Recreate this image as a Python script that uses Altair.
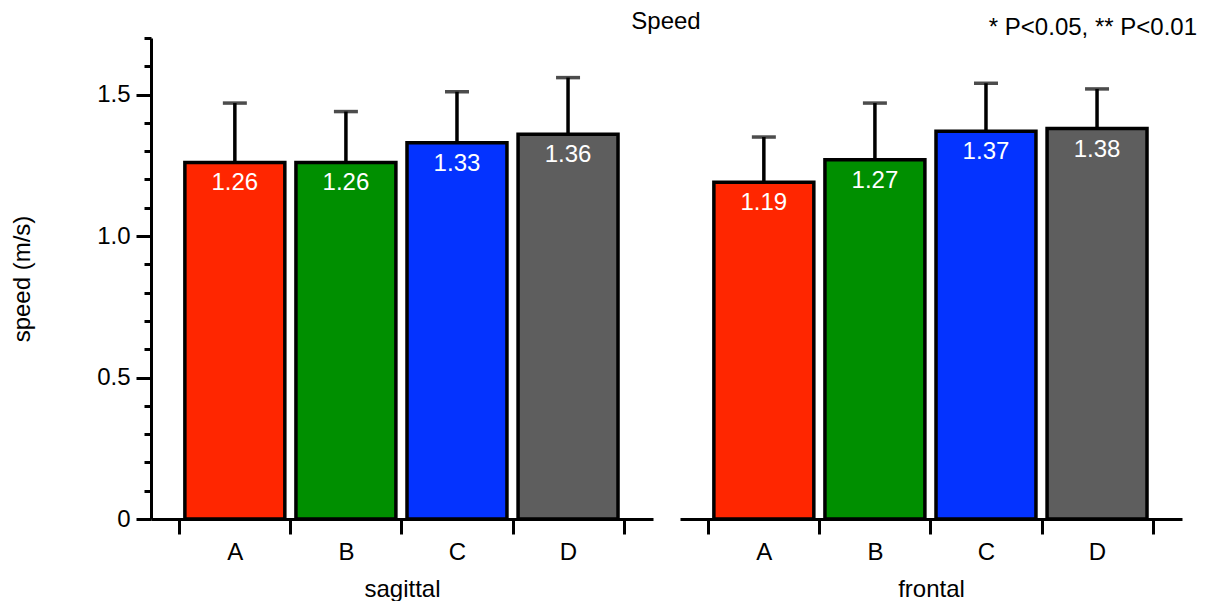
import json
import altair as alt
import pandas as pd

# ---- data ----
categories = ["A", "B", "C", "D"]
panels = ["sagittal", "frontal"]
sagittal_mean = [1.26, 1.26, 1.33, 1.36]
sagittal_sd = [0.21, 0.18, 0.18, 0.20]
frontal_mean = [1.19, 1.27, 1.37, 1.38]
frontal_sd = [0.16, 0.20, 0.17, 0.14]
bar_colors = ["#FF2600", "#008F00", "#0433FF", "#5E5E5E"]
y_tick_values = [0.0, 0.1, 0.2, 0.3, 0.4, 0.5, 0.6, 0.7, 0.8, 0.9,
                 1.0, 1.1, 1.2, 1.3, 1.4, 1.5, 1.6, 1.7]
x_tick_values = [0, 1, 2, 3, 4]
chart_title = "Speed"
note_text = "* P<0.05, ** P<0.01"
y_title = "speed (m/s)"

FONT = "Liberation Sans"
FS = 24
W, H = 502, 481

x_scale = alt.Scale(domain=[-0.255, 4.265], nice=False, zero=False)
y_scale = alt.Scale(domain=[0, 1.7], nice=False, zero=True)

label_expr = json.dumps(categories) + "[datum.value] || ''"


def panel(name, means, sds, show_y, annotate=None):
    df = pd.DataFrame({
        "cat": categories,
        "mean": means,
        "sd": sds,
        "color": bar_colors,
        "idx": list(range(len(categories))),
    })
    df["top"] = df["mean"] + df["sd"]
    df["label"] = df["mean"].map(lambda v: f"{v:.2f}")
    base = alt.Chart(df).transform_calculate(
        x0="datum.idx + 0.05", x1="datum.idx + 0.95", xm="datum.idx + 0.5"
    )
    x_axis = alt.Axis(
        values=x_tick_values, labelExpr=label_expr, labelOffset=55.5,
        tickSize=15, grid=False, labelPadding=6, titlePadding=13,
        labelOverlap=False, labelFlush=False,
    )
    if show_y:
        y_axis = alt.Axis(
            values=y_tick_values,
            tickSize={"condition": {"test": "round(datum.value*10) % 5 == 0", "value": 15}, "value": 7},
            labelExpr="datum.value == 0 ? '0' : (round(datum.value*10) % 5 == 0 ? format(datum.value, '.1f') : '')",
            grid=False, labelPadding=6, titlePadding=62, labelOverlap=False,
        )
    else:
        y_axis = None

    def X(field):
        return alt.X(field, scale=x_scale, axis=x_axis, title=name)

    def Y(field):
        return alt.Y(field, scale=y_scale, axis=y_axis, title=y_title)

    rules = base.mark_rule(color="black", strokeWidth=3.5).encode(
        x=X("xm:Q"), y=Y("mean:Q"), y2="top:Q",
    )
    caps = base.mark_tick(color="black", orient="horizontal", size=24, thickness=3.5).encode(
        x=X("xm:Q"), y=Y("top:Q")
    )
    bars = base.mark_bar(stroke="black", strokeWidth=3.5).encode(
        x=X("x0:Q"), x2="x1:Q", y=Y("mean:Q"), y2=alt.datum(0),
        color=alt.Color("color:N", scale=None),
    )
    texts = base.mark_text(color="white", font=FONT, fontSize=FS, baseline="top", dy=9).encode(
        x=X("xm:Q"), y=Y("mean:Q"), text="label:N"
    )
    layers = [rules, caps, bars, texts]
    if annotate is not None:
        layers.append(annotate)
    return alt.layer(*layers).properties(width=W, height=H)


title_df = pd.DataFrame({"t": [chart_title]})
note_df = pd.DataFrame({"t": [note_text]})

title_mark = alt.Chart(title_df).mark_text(
    font=FONT, fontSize=FS, align="center", baseline="middle", color="black"
).encode(x=alt.value(515), y=alt.value(-16), text="t:N")
note_mark = alt.Chart(note_df).mark_text(
    font=FONT, fontSize=FS, align="right", baseline="middle", color="black"
).encode(x=alt.value(517), y=alt.value(-10), text="t:N")

left = panel(panels[0], sagittal_mean, sagittal_sd, True, title_mark)
right = panel(panels[1], frontal_mean, frontal_sd, False, note_mark)

chart = alt.hconcat(left, right, spacing=27, bounds="flush").properties(
    padding={"left": 10, "top": 10, "right": 0, "bottom": 0}
).configure_view(stroke=None).configure_axis(
    domainColor="black", domainWidth=3, tickColor="black", tickWidth=3,
    labelFont=FONT, labelFontSize=FS, labelColor="black",
    titleFont=FONT, titleFontSize=FS, titleFontWeight="normal", titleColor="black",
)

chart.save("out.html", embed_options={"renderer": "svg", "actions": False})
